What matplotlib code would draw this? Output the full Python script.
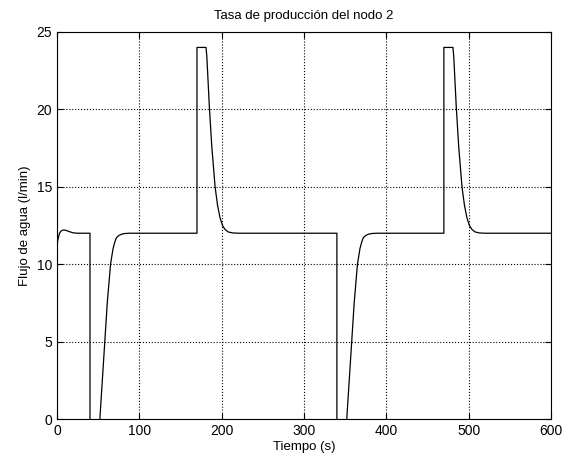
import numpy as np
import matplotlib.pyplot as plt

plt.rcParams['font.family'] = ['Liberation Sans', 'DejaVu Sans']

# one cycle (first 300 s), second cycle shifted by 300 s
t_cycle = [0, 1, 3, 5, 7, 10, 15, 20, 25, 40, 40.01, 52, 55, 58, 61, 65,
           68, 70, 72, 75, 78, 82, 88, 100, 169.99, 170, 181, 182, 185,
           188, 192, 195, 198, 201, 204, 208, 213, 220]
y_cycle = [11.2, 11.6, 12.0, 12.15, 12.2, 12.2, 12.1, 12.02, 12.0, 12.0, -2,
           0, 2.5, 5, 7.5, 10, 11.0, 11.4, 11.7, 11.85, 11.93, 11.98, 12.0,
           12.0, 12.0, 24, 24, 23.4, 20.2, 17.6, 15.0, 13.8, 13.0, 12.5,
           12.25, 12.08, 12.02, 12.0]

time = t_cycle + [t + 300 for t in t_cycle[9:]] + [600]
flow = y_cycle + y_cycle[9:] + [12.0]

fig = plt.figure(figsize=(5.65, 4.63), dpi=100)
ax = fig.add_axes([0.101, 0.095, 0.874, 0.836])
ax.plot(time, flow, color='black', linewidth=0.9)

ax.set_xlim(0, 600)
ax.set_ylim(0, 25)
ax.set_xticks(np.arange(0, 601, 100))
ax.set_yticks(np.arange(0, 26, 5))
ax.tick_params(direction='in', top=True, right=True, labelsize=10, length=4)
ax.grid(True, linestyle=':', color='black', linewidth=0.8)
for s in ax.spines.values():
    s.set_linewidth(0.8)

ax.set_title('Tasa de producción del nodo 2', fontsize=9.5, pad=9)
ax.set_xlabel('Tiempo (s)', fontsize=9.5, labelpad=2)
ax.set_ylabel('Flujo de agua (l/min)', fontsize=9.5, labelpad=4)

fig.savefig('out.png', dpi=100)
